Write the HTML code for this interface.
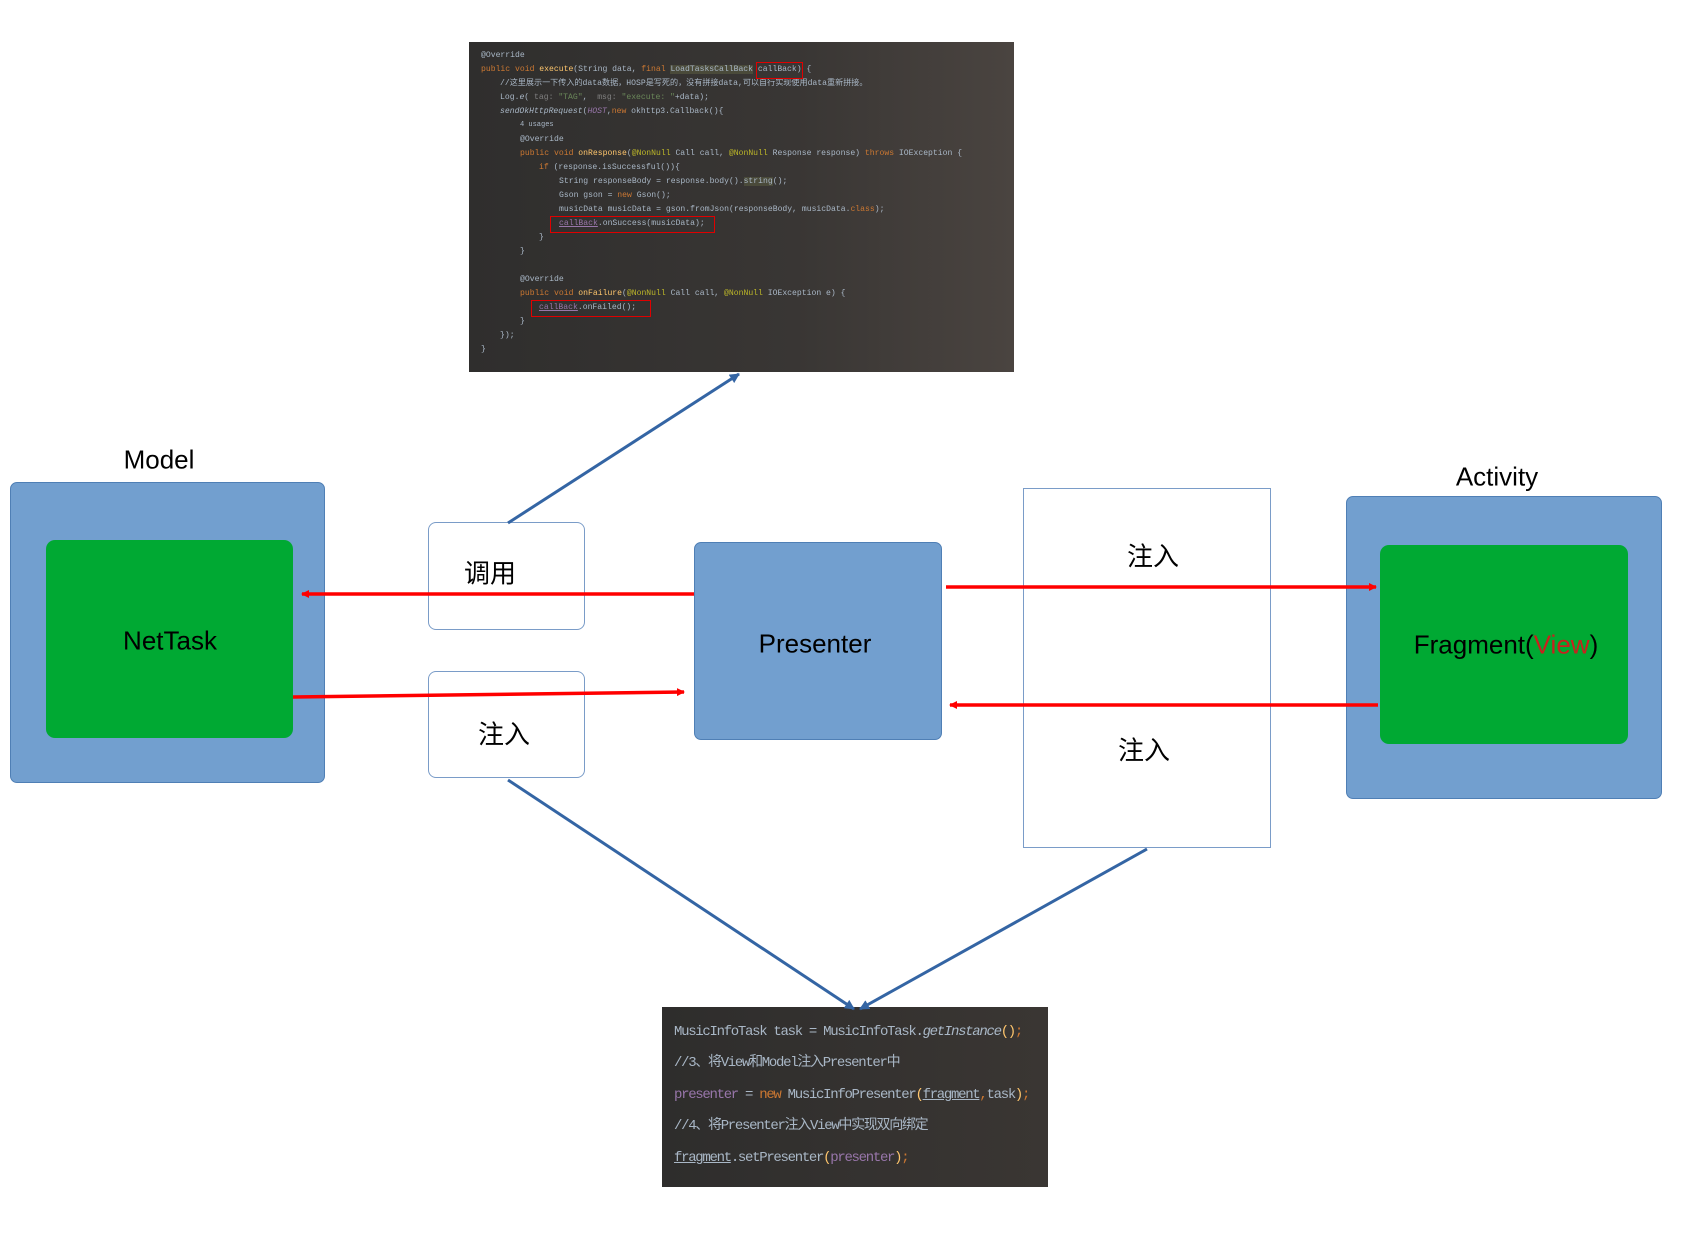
<!DOCTYPE html>
<html><head><meta charset="utf-8"><style>
body{margin:0;width:1692px;height:1241px;background:#fff;position:relative;overflow:hidden;font-family:"Liberation Sans","Noto Sans CJK SC",sans-serif}
.a{position:absolute;box-sizing:border-box}
.blue{background:#729fcf;border:1.5px solid #4f7fb5;border-radius:7px}
.green{background:#00a933;border-radius:9px}
.wb{background:#fff;border:1.5px solid #7a9cc8;border-radius:8px}
.t{position:absolute;font-size:26px;color:#000;white-space:nowrap;transform:translate(-50%,-50%)}
.code{background:#35322f;overflow:hidden;font-family:"Liberation Mono","Noto Sans CJK SC",monospace}
.code div{position:absolute;white-space:pre;color:#a9b7c6;line-height:1}
.k{color:#cc7832}.an{color:#bbb529}.c{color:#808080}.s{color:#6a8759}.f{color:#ffc66d}.p{color:#9876aa}
</style></head><body>

<div class="a code" style="left:469px;top:42px;width:545px;height:330px;font-size:8.1px;background:linear-gradient(90deg,#2f2e2d 0%,#393634 60%,#4a4440 100%)">
<div style="left:12px;top:10px" class="an">@Override</div>
<div style="left:12px;top:24px"><span class="k">public void </span><span class="f">execute</span>(String data, <span class="k">final </span><span style="background:#4a4a3a">LoadTasksCallBack</span> callBack) {</div>
<div style="left:31px;top:38px" class="c">//这里展示一下传入的data数据，HOSP是写死的，没有拼接data,可以自行实现使用data重新拼接。</div>
<div style="left:31px;top:52px">Log.<i>e</i>( <span class="c">tag:</span> <span class="s">"TAG"</span>,  <span class="c">msg:</span> <span class="s">"execute: "</span>+data);</div>
<div style="left:31px;top:66px"><i>sendOkHttpRequest</i>(<i class="p">HOST</i>,<span class="k">new</span> okhttp3.Callback(){</div>
<div style="left:51px;top:80px;font-size:7px" class="c">4 usages</div>
<div style="left:51px;top:94px" class="an">@Override</div>
<div style="left:51px;top:108px"><span class="k">public void </span><span class="f">onResponse</span>(<span class="an">@NonNull</span> Call call, <span class="an">@NonNull</span> Response response) <span class="k">throws</span> IOException {</div>
<div style="left:70px;top:122px"><span class="k">if</span> (response.isSuccessful()){</div>
<div style="left:90px;top:136px">String responseBody = response.body().<span style="background:#4a4a3a">string</span>();</div>
<div style="left:90px;top:150px">Gson gson = <span class="k">new</span> Gson();</div>
<div style="left:90px;top:164px">musicData musicData = gson.fromJson(responseBody, musicData.<span class="k">class</span>);</div>
<div style="left:90px;top:178px"><span class="p" style="text-decoration:underline">callBack</span>.onSuccess(musicData);</div>
<div style="left:70px;top:192px">}</div>
<div style="left:51px;top:206px">}</div>
<div style="left:51px;top:234px" class="an">@Override</div>
<div style="left:51px;top:248px"><span class="k">public void </span><span class="f">onFailure</span>(<span class="an">@NonNull</span> Call call, <span class="an">@NonNull</span> IOException e) {</div>
<div style="left:70px;top:262px"><span class="p" style="text-decoration:underline">callBack</span>.onFailed();</div>
<div style="left:51px;top:276px">}</div>
<div style="left:31px;top:290px">});</div>
<div style="left:12px;top:304px">}</div>
<div style="left:287px;top:20px;width:47px;height:17px;border:1.5px solid #e00000;box-sizing:border-box"></div>
<div style="left:81px;top:174px;width:165px;height:17px;border:1.5px solid #e00000;box-sizing:border-box"></div>
<div style="left:62px;top:258px;width:120px;height:17px;border:1.5px solid #e00000;box-sizing:border-box"></div>
</div>

<div class="t" style="left:159px;top:460px">Model</div>
<div class="a blue" style="left:10px;top:482px;width:315px;height:301px"></div>
<div class="a green" style="left:46px;top:540px;width:247px;height:198px"></div>
<div class="t" style="left:170px;top:641px">NetTask</div>

<div class="a wb" style="left:428px;top:522px;width:157px;height:108px"></div>
<div class="t" style="left:490px;top:572px">调用</div>
<div class="a wb" style="left:428px;top:671px;width:157px;height:107px"></div>
<div class="t" style="left:504px;top:733px">注入</div>

<div class="a blue" style="left:694px;top:542px;width:248px;height:198px"></div>
<div class="t" style="left:815px;top:644px">Presenter</div>

<div class="a" style="left:1023px;top:488px;width:248px;height:360px;border:1.5px solid #7a9cc8;background:#fff"></div>
<div class="t" style="left:1153px;top:555px">注入</div>
<div class="t" style="left:1144px;top:749px">注入</div>

<div class="t" style="left:1497px;top:477px">Activity</div>
<div class="a blue" style="left:1346px;top:496px;width:316px;height:303px"></div>
<div class="a green" style="left:1380px;top:545px;width:248px;height:199px"></div>
<div class="t" style="left:1506px;top:645px">Fragment(<span style="color:#c9211e">View</span>)</div>

<div class="a code" style="left:662px;top:1007px;width:386px;height:180px;font-size:14px;letter-spacing:-1.3px;background:linear-gradient(90deg,#2e2d2c,#3a3633)">
<div style="left:12px;top:18px">MusicInfoTask task = MusicInfoTask.<i>getInstance</i><span class="f">()</span><span class="k">;</span></div>
<div style="left:12px;top:49px" class="c">//3、将View和Model注入Presenter中</div>
<div style="left:12px;top:81px"><span class="p">presenter</span> = <span class="k">new</span> MusicInfoPresenter<span class="f">(</span><span style="text-decoration:underline">fragment</span><span class="k">,</span>task<span class="f">)</span><span class="k">;</span></div>
<div style="left:12px;top:112px" class="c">//4、将Presenter注入View中实现双向绑定</div>
<div style="left:12px;top:144px"><span style="text-decoration:underline">fragment</span>.setPresenter<span class="f">(</span><span class="p">presenter</span><span class="f">)</span><span class="k">;</span></div>
</div>

<svg class="a" style="left:0;top:0" width="1692" height="1241">
<defs>
<marker id="r" markerWidth="8" markerHeight="8" refX="7" refY="4" orient="auto" markerUnits="userSpaceOnUse"><path d="M0,0L8,4L0,8z" fill="#ff0000"/></marker>
<marker id="b" markerWidth="10" markerHeight="10" refX="9" refY="5" orient="auto" markerUnits="userSpaceOnUse"><path d="M0,0L10,5L0,10z" fill="#3465a4"/></marker>
</defs>
<g stroke="#ff0000" stroke-width="3.5" fill="none">
<line x1="694" y1="594" x2="302" y2="594" marker-end="url(#r)"/>
<line x1="293" y1="697" x2="684" y2="692" marker-end="url(#r)"/>
<line x1="946" y1="587" x2="1376" y2="587" marker-end="url(#r)"/>
<line x1="1378" y1="705" x2="950" y2="705" marker-end="url(#r)"/>
</g>
<g stroke="#3465a4" stroke-width="3" fill="none">
<line x1="508" y1="523" x2="739" y2="374" marker-end="url(#b)"/>
<line x1="508" y1="780" x2="854" y2="1009" marker-end="url(#b)"/>
<line x1="1147" y1="849" x2="860" y2="1009" marker-end="url(#b)"/>
</g>
</svg>
</body></html>
